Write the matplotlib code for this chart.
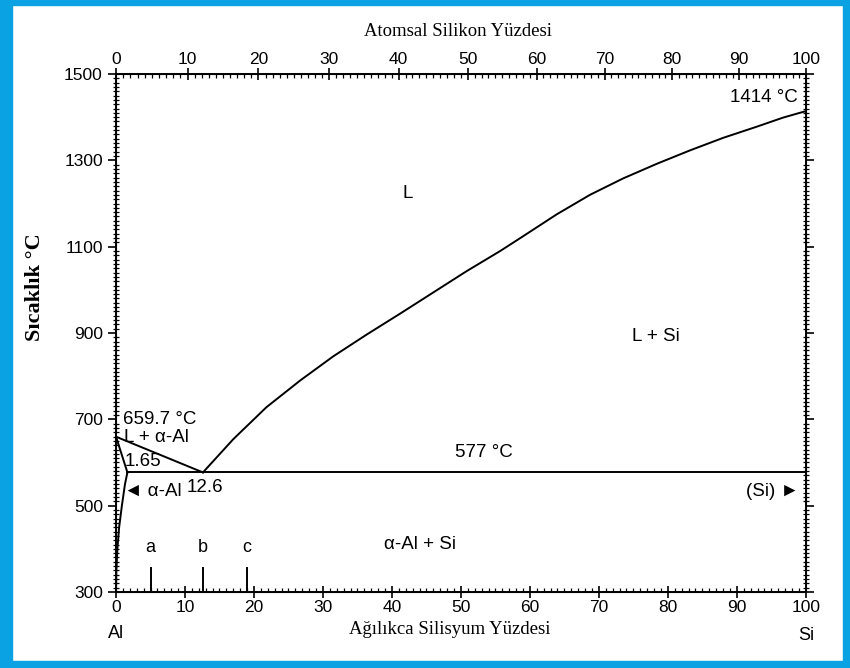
import numpy as np
import matplotlib.pyplot as plt
from matplotlib.patches import Rectangle
from matplotlib.ticker import MultipleLocator, FixedLocator

plt.rcParams['font.family'] = ['Liberation Sans', 'DejaVu Sans']

# liquidus of Si (wt% Si, T in C)
liq_si_wt = [12.6, 17.0, 21.8, 26.7, 31.5, 36.3, 41.2, 46.0, 50.8, 55.7, 59.0,
             63.9, 68.7, 73.5, 78.4, 83.2, 88.0, 92.9, 96.7, 100]
liq_si_T = [577, 654, 728, 790, 846, 896, 945, 994, 1043, 1090, 1124,
            1175, 1220, 1258, 1292, 1323, 1352, 1378, 1399, 1414]
# Al side
liq_al_wt = [0, 12.6]
liq_al_T = [659.7, 577]
sol_wt = [0, 1.65]
sol_T = [659.7, 577]
solvus_wt = [1.65, 1.3, 0.85, 0.45, 0.2, 0.05, 0]
solvus_T = [577, 550, 500, 450, 400, 350, 300]
eut_wt = [1.65, 100]
eut_T = [577, 577]
marks = ['a', 'b', 'c']
marks_wt = [5, 12.6, 19]

at_ticks = np.arange(0, 101, 10)
M_SI, M_AL = 28.086, 26.982


def at_to_wt(a):
    a = np.asarray(a, dtype=float)
    return 100 * a * M_SI / (a * M_SI + (100 - a) * M_AL)


fig = plt.figure(figsize=(8.5, 6.68), dpi=100)
ax = fig.add_axes([0.1365, 0.1138, 0.8115, 0.7754])

lw = 1.4
ax.plot(liq_si_wt, liq_si_T, color='black', lw=lw)
ax.plot(liq_al_wt, liq_al_T, color='black', lw=lw)
ax.plot(sol_wt, sol_T, color='black', lw=lw)
ax.plot(solvus_wt, solvus_T, color='black', lw=lw)
ax.plot(eut_wt, eut_T, color='black', lw=lw)
for m, x in zip(marks, marks_wt):
    ax.plot([x, x], [300, 355], color='black', lw=lw)
    ax.text(x, 383, m, ha='center', va='bottom', fontsize=13)

ax.set_xlim(0, 100)
ax.set_ylim(300, 1500)
ax.set_xticks(np.arange(0, 101, 10))
ax.set_yticks(np.arange(300, 1501, 200))
ax.xaxis.set_minor_locator(MultipleLocator(1))
ax.yaxis.set_minor_locator(MultipleLocator(10))
ax.tick_params(axis='x', which='major', direction='inout', length=8, width=1.2,
               labelsize=12.5, pad=2)
ax.tick_params(axis='x', which='minor', direction='in', length=3, width=0.9)
ax.tick_params(axis='y', which='major', direction='out', length=6, width=1.2,
               labelsize=12.5, right=True)
ax.tick_params(axis='y', which='minor', direction='inout', length=4, width=0.9,
               right=True)
for s in ax.spines.values():
    s.set_linewidth(1.4)

top = ax.twiny()
top.set_xlim(0, 100)
top.xaxis.set_major_locator(FixedLocator(at_to_wt(at_ticks)))
top.set_xticklabels([str(v) for v in at_ticks])
top.xaxis.set_minor_locator(FixedLocator(at_to_wt(np.arange(0, 101, 1))))
top.tick_params(axis='x', which='major', direction='inout', length=8, width=1.2,
                labelsize=12.5, pad=1)
top.tick_params(axis='x', which='minor', direction='in', length=3, width=0.9)

# region and point labels
fs = 13.5
ax.text(98.8, 1445, '1414 °C', ha='right', va='center', fontsize=fs)
ax.text(42.3, 1224, 'L', ha='center', va='center', fontsize=fs)
ax.text(78.3, 891, 'L + Si', ha='center', va='center', fontsize=fs)
ax.text(53.3, 624, '577 °C', ha='center', va='center', fontsize=fs)
ax.text(99, 532, '(Si) ►', ha='right', va='center', fontsize=fs)
ax.text(44, 411, 'α-Al + Si', ha='center', va='center', fontsize=fs)
ax.text(1.0, 699, '659.7 °C', ha='left', va='center', fontsize=fs)
ax.text(1.2, 657, 'L + α-Al', ha='left', va='center', fontsize=fs)
ax.text(1.2, 603, '1.65', ha='left', va='center', fontsize=fs)
ax.text(1.2, 534, '◄ α-Al', ha='left', va='center', fontsize=fs)
ax.text(12.9, 543, '12.6', ha='center', va='center', fontsize=fs)

fig.text(116 / 850, 1 - 633 / 668, 'Al', ha='center', va='center', fontsize=13)
fig.text(806 / 850, 1 - 635 / 668, 'Si', ha='center', va='center', fontsize=13)

serif = ['Liberation Serif', 'DejaVu Serif']
fig.text(450 / 850, 1 - 630 / 668, 'Ağılıkca Silisyum Yüzdesi', ha='center',
         va='center', fontsize=13.5, family=serif)
fig.text(458 / 850, 1 - 32 / 668, 'Atomsal Silikon Yüzdesi', ha='center',
         va='center', fontsize=13.5, family=serif)
fig.text(35 / 850, 1 - 287 / 668, 'Sıcaklık °C', ha='center', va='center',
         rotation=90, fontsize=16, fontweight='bold', family=serif)

# blue frame
blue = '#0BA2E4'
for r in [(0, 0, 12 / 850, 1), (0, 0, 1, 7 / 668), (0, 1 - 5 / 668, 1, 5 / 668),
          (1 - 7 / 850, 0, 7 / 850, 1)]:
    fig.patches.append(Rectangle(r[:2], r[2], r[3], transform=fig.transFigure,
                                 color=blue, zorder=10))

fig.savefig('out.png', dpi=100)
